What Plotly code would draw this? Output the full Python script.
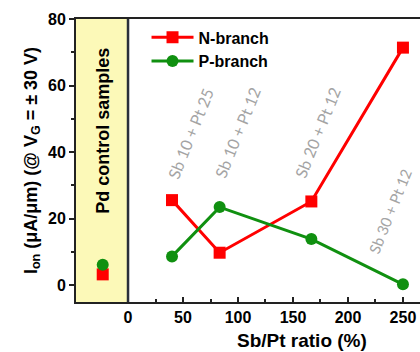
import plotly.graph_objects as go

# Data
ratio = [40, 83.3, 166.7, 250]
n_branch = [25.6, 9.8, 25.2, 71.4]
p_branch = [8.7, 23.5, 13.9, 0.3]
pd_x = [-23]
pd_n = [3.3]
pd_p = [6.2]
sample_labels = ["Sb 10 + Pt 25", "Sb 10 + Pt 12", "Sb 20 + Pt 12", "Sb 30 + Pt 12"]
xticks = [0, 50, 100, 150, 200, 250]
yticks = [0, 20, 40, 60, 80]

RED = "#ff0000"
GREEN = "#109010"

fig = go.Figure()
fig.add_trace(go.Scatter(x=ratio, y=n_branch, mode="lines+markers", name="N-branch",
                         line=dict(color=RED, width=3),
                         marker=dict(symbol="square", size=12, color=RED)))
fig.add_trace(go.Scatter(x=ratio, y=p_branch, mode="lines+markers", name="P-branch",
                         line=dict(color=GREEN, width=3),
                         marker=dict(symbol="circle", size=12, color=GREEN)))
fig.add_trace(go.Scatter(x=pd_x, y=pd_n, mode="markers", showlegend=False,
                         marker=dict(symbol="square", size=12, color=RED)))
fig.add_trace(go.Scatter(x=pd_x, y=pd_p, mode="markers", showlegend=False,
                         marker=dict(symbol="circle", size=12, color=GREEN)))

xr = [-47.3, 265.5]
yr = [-5, 80]

fig.add_shape(type="rect", x0=xr[0], x1=0, y0=yr[0], y1=yr[1], xref="x", yref="y",
              fillcolor="#fcf9b8", line_width=0, layer="below")
fig.add_shape(type="line", x0=0, x1=0, y0=yr[0], y1=yr[1], xref="x", yref="y",
              line=dict(color="#2a2f3a", width=2.5))

# sample annotations (gray, rotated)
ann_pos = [(190, 133), (237, 132), (317, 132), (390, 211)]
ann_size = [16, 16, 16, 15]
L, T, W, H = 76, 19, 344, 283
for txt, (px, py), sz in zip(sample_labels, ann_pos, ann_size):
    fig.add_annotation(x=(px - L) / W, y=1 - (py - T) / H, xref="paper", yref="paper",
                       text=txt, showarrow=False, textangle=-68,
                       font=dict(family="Lato", size=sz, color="#a4a4a4"),
                       xanchor="center", yanchor="middle")

fig.add_annotation(x=-23, y=1 - (131 - T) / H, xref="x", yref="paper",
                   text="<b>Pd control samples</b>", showarrow=False, textangle=-90,
                   font=dict(family="Liberation Sans", size=18, color="black"),
                   xanchor="center", yanchor="middle")

fig.add_annotation(x=(302 - L) / W, y=1 - (340 - T) / H, xref="paper", yref="paper",
                   text="<b>Sb/Pt ratio (%)</b>", showarrow=False,
                   font=dict(family="Liberation Sans", size=19, color="black"),
                   xanchor="center", yanchor="middle")

fig.update_layout(
    width=420, height=352,
    margin=dict(l=76, r=0, t=19, b=50),
    plot_bgcolor="white", paper_bgcolor="white",
    font=dict(family="Liberation Sans", color="black"),
    showlegend=True,
    legend=dict(x=0.205, y=0.995, xanchor="left", yanchor="top",
                bgcolor="rgba(0,0,0,0)", itemwidth=42,
                font=dict(family="Liberation Sans", size=16, color="black", weight="bold")),
    xaxis=dict(range=xr, tickvals=xticks, showgrid=False, zeroline=False,
               showline=True, linecolor="#222", linewidth=2, mirror=True,
               ticks="inside", ticklen=5, tickwidth=1.5, tickcolor="#222",
               tickfont=dict(size=16, weight="bold"),
               minor=dict(tickvals=[25, 75, 125, 175, 225], ticks="inside", ticklen=3,
                          tickcolor="#222")),
    yaxis=dict(range=yr, tickvals=yticks, showgrid=False, zeroline=False,
               showline=True, linecolor="#222", linewidth=2, mirror=False,
               ticks="outside", ticklen=5, tickwidth=1.5, tickcolor="#222",
               tickfont=dict(size=16, weight="bold"),
               minor=dict(tickvals=[10, 30, 50, 70], ticks="outside", ticklen=3,
                          tickcolor="#222"),
               title=dict(text="<b>I<sub>on</sub> (μA/μm) (@ V<sub>G</sub> = ± 30 V)</b>",
                          font=dict(size=18), standoff=6)),
)

fig.write_html("out.html")
